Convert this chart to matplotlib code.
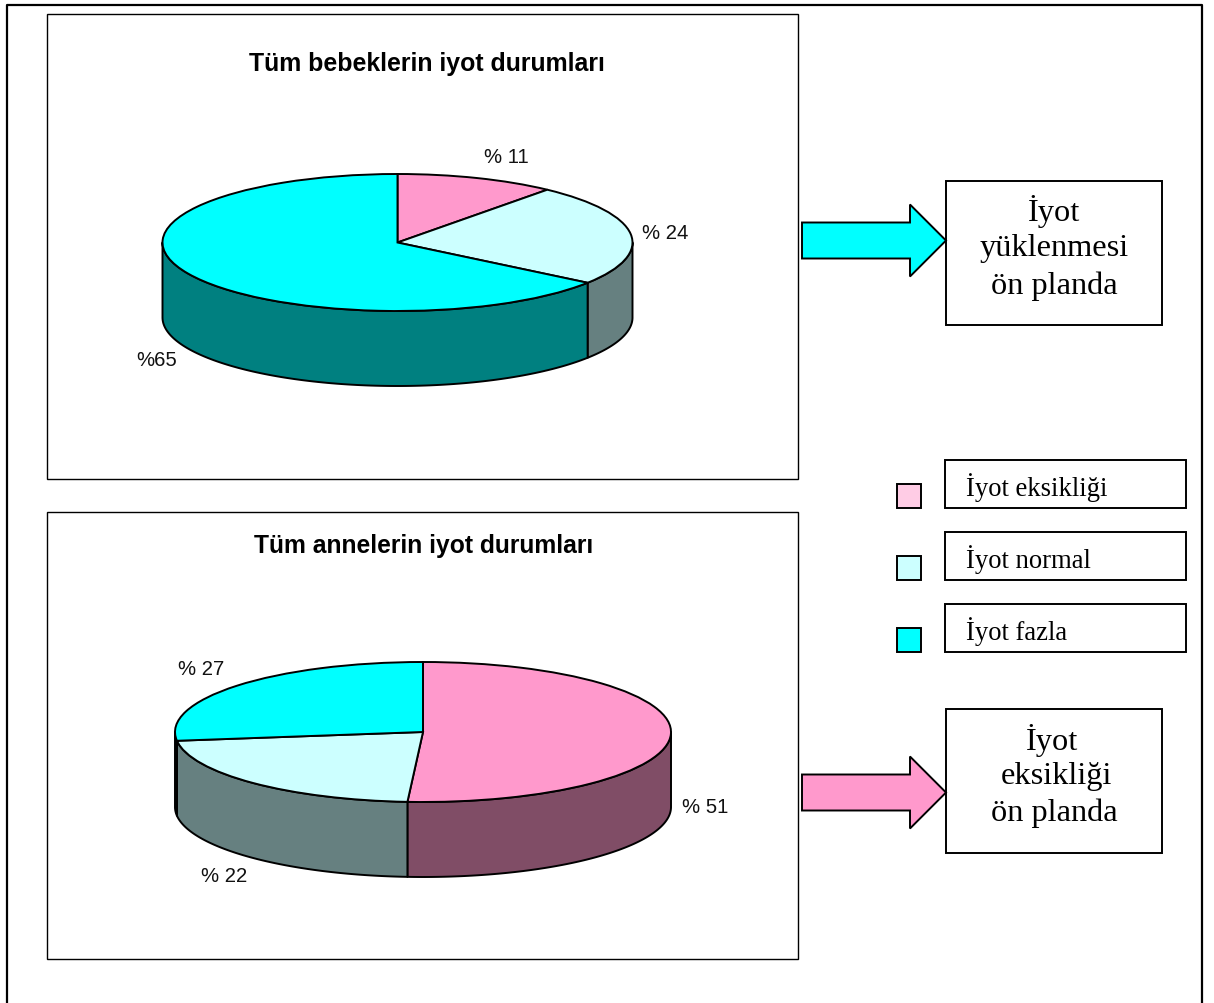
import numpy as np
import matplotlib
matplotlib.use('Agg')
import matplotlib.pyplot as plt
from matplotlib.patches import Polygon, Rectangle

W, H = 1214, 1004

# slice values, clockwise from twelve o'clock
baby_values = [11, 24, 65]
mother_values = [51, 22, 27]
baby_title = 'Tüm bebeklerin iyot durumları'
mother_title = 'Tüm annelerin iyot durumları'
baby_labels = ['% 11', '% 24', '%65']
mother_labels = ['% 51', '% 22', '% 27']
legend_names = ['İyot eksikliği', 'İyot normal', 'İyot fazla']

top_colors = ['#FF99CC', '#CCFFFF', '#00FFFF']
side_colors = ['#804D66', '#668080', '#008080']
swatch_colors = ['#FFCCE5', '#CCFFFF', '#00FFFF']

SANS = 'Liberation Sans'
SERIF = 'Liberation Serif'
LW = 1.4


def box(ax, x0, y0, x1, y1, lw=LW, fc='white'):
    ax.add_patch(Rectangle((x0, y0), x1 - x0, y1 - y0, fc=fc, ec='black', lw=lw))


def arrow(ax, y, color):
    # block arrow pointing right, y is the centre line
    pts = [(802, y - 18), (910, y - 18), (910, y - 36), (946, y),
           (910, y + 36), (910, y + 18), (802, y + 18)]
    ax.add_patch(Polygon(pts, closed=True, fc=color, ec='black', lw=LW, zorder=3))


def pie3d(fig, values, cx, cy, rx, ry, depth):
    # the axes box is the bounding box of the top ellipse, so a unit pie comes out squashed
    ax = fig.add_axes([(cx - rx) / W, 1 - (cy + ry) / H, 2 * rx / W, 2 * ry / H])
    d = depth / ry
    frac = np.cumsum([0] + list(values)) / sum(values)
    angles = 90 - 360 * frac
    for i in range(len(values)):
        # only the part of a slice below the horizontal has a visible wall
        for lo_lim, hi_lim in [(-180, 0), (-540, -360)]:
            a0 = min(angles[i], hi_lim)
            a1 = max(angles[i + 1], lo_lim)
            if a0 <= a1:
                continue
            t = np.radians(np.linspace(a0, a1, 120))
            xs = np.cos(t)
            ys = np.sin(t)
            pts = np.r_[np.c_[xs, ys], np.c_[xs[::-1], ys[::-1] - d]]
            ax.add_patch(Polygon(pts, closed=True, fc=side_colors[i], ec='black',
                                 lw=LW, clip_on=False, joinstyle='round'))
    ax.pie(values, colors=top_colors, startangle=90, counterclock=False, radius=1,
           wedgeprops={'edgecolor': 'black', 'linewidth': LW})
    ax.set_aspect('auto')
    ax.set_xlim(-1, 1)
    ax.set_ylim(-1, 1)
    ax.patch.set_visible(False)
    return ax


fig = plt.figure(figsize=(W / 100, H / 100), dpi=100)
bg = fig.add_axes([0, 0, 1, 1])
bg.set_xlim(0, W)
bg.set_ylim(H - 0.5, -0.5)
bg.axis('off')

# outer frame runs off the bottom edge
bg.plot([7, 7, 1202, 1202], [H + 5, 5, 5, H + 5], color='black', lw=1.6)

box(bg, 47, 14, 798, 479, lw=1.0)
box(bg, 47, 512.5, 798, 959.5, lw=1.0)

bg.text(427, 63, baby_title, family=SANS, weight='bold', fontsize=17.9, ha='center', va='center')
bg.text(424, 546, mother_title, family=SANS, weight='bold', fontsize=17.7, ha='center', va='center')

pie3d(fig, baby_values, 397.5, 243.5, 235, 68.5, 75)
pie3d(fig, mother_values, 423, 733, 248, 70, 75)

for (x, y), lab in zip([(506, 157), (665, 233), (157, 360)], baby_labels):
    bg.text(x, y, lab, family=SANS, fontsize=14.6, ha='center', va='center', color='#111111')
for (x, y), lab in zip([(705, 807), (224, 876), (201, 669)], mother_labels):
    bg.text(x, y, lab, family=SANS, fontsize=14.6, ha='center', va='center', color='#111111')

arrow(bg, 241, top_colors[2])
arrow(bg, 793, top_colors[0])

box(bg, 946, 181, 1162, 325)
for y, line in zip([211, 248, 286], ['İyot', 'yüklenmesi', 'ön planda']):
    bg.text(1054, y, line, family=SERIF, fontsize=23.3, ha='center', va='center')

box(bg, 946, 709, 1162, 853)
for x, y, line in zip([1052, 1056, 1054], [740, 776, 813], ['İyot', 'eksikliği', 'ön planda']):
    bg.text(x, y, line, family=SERIF, fontsize=23.3, ha='center', va='center')

# hand-made legend: swatch on the left, boxed name on the right
for i, name in enumerate(legend_names):
    top = 460 + 72 * i
    box(bg, 945, top, 1186, top + 48)
    box(bg, 897, top + 24, 921, top + 48, fc=swatch_colors[i])
    bg.text(966, top + 27, name, family=SERIF, fontsize=19.2, ha='left', va='center')

fig.savefig('out.png', dpi=100, facecolor='white')
